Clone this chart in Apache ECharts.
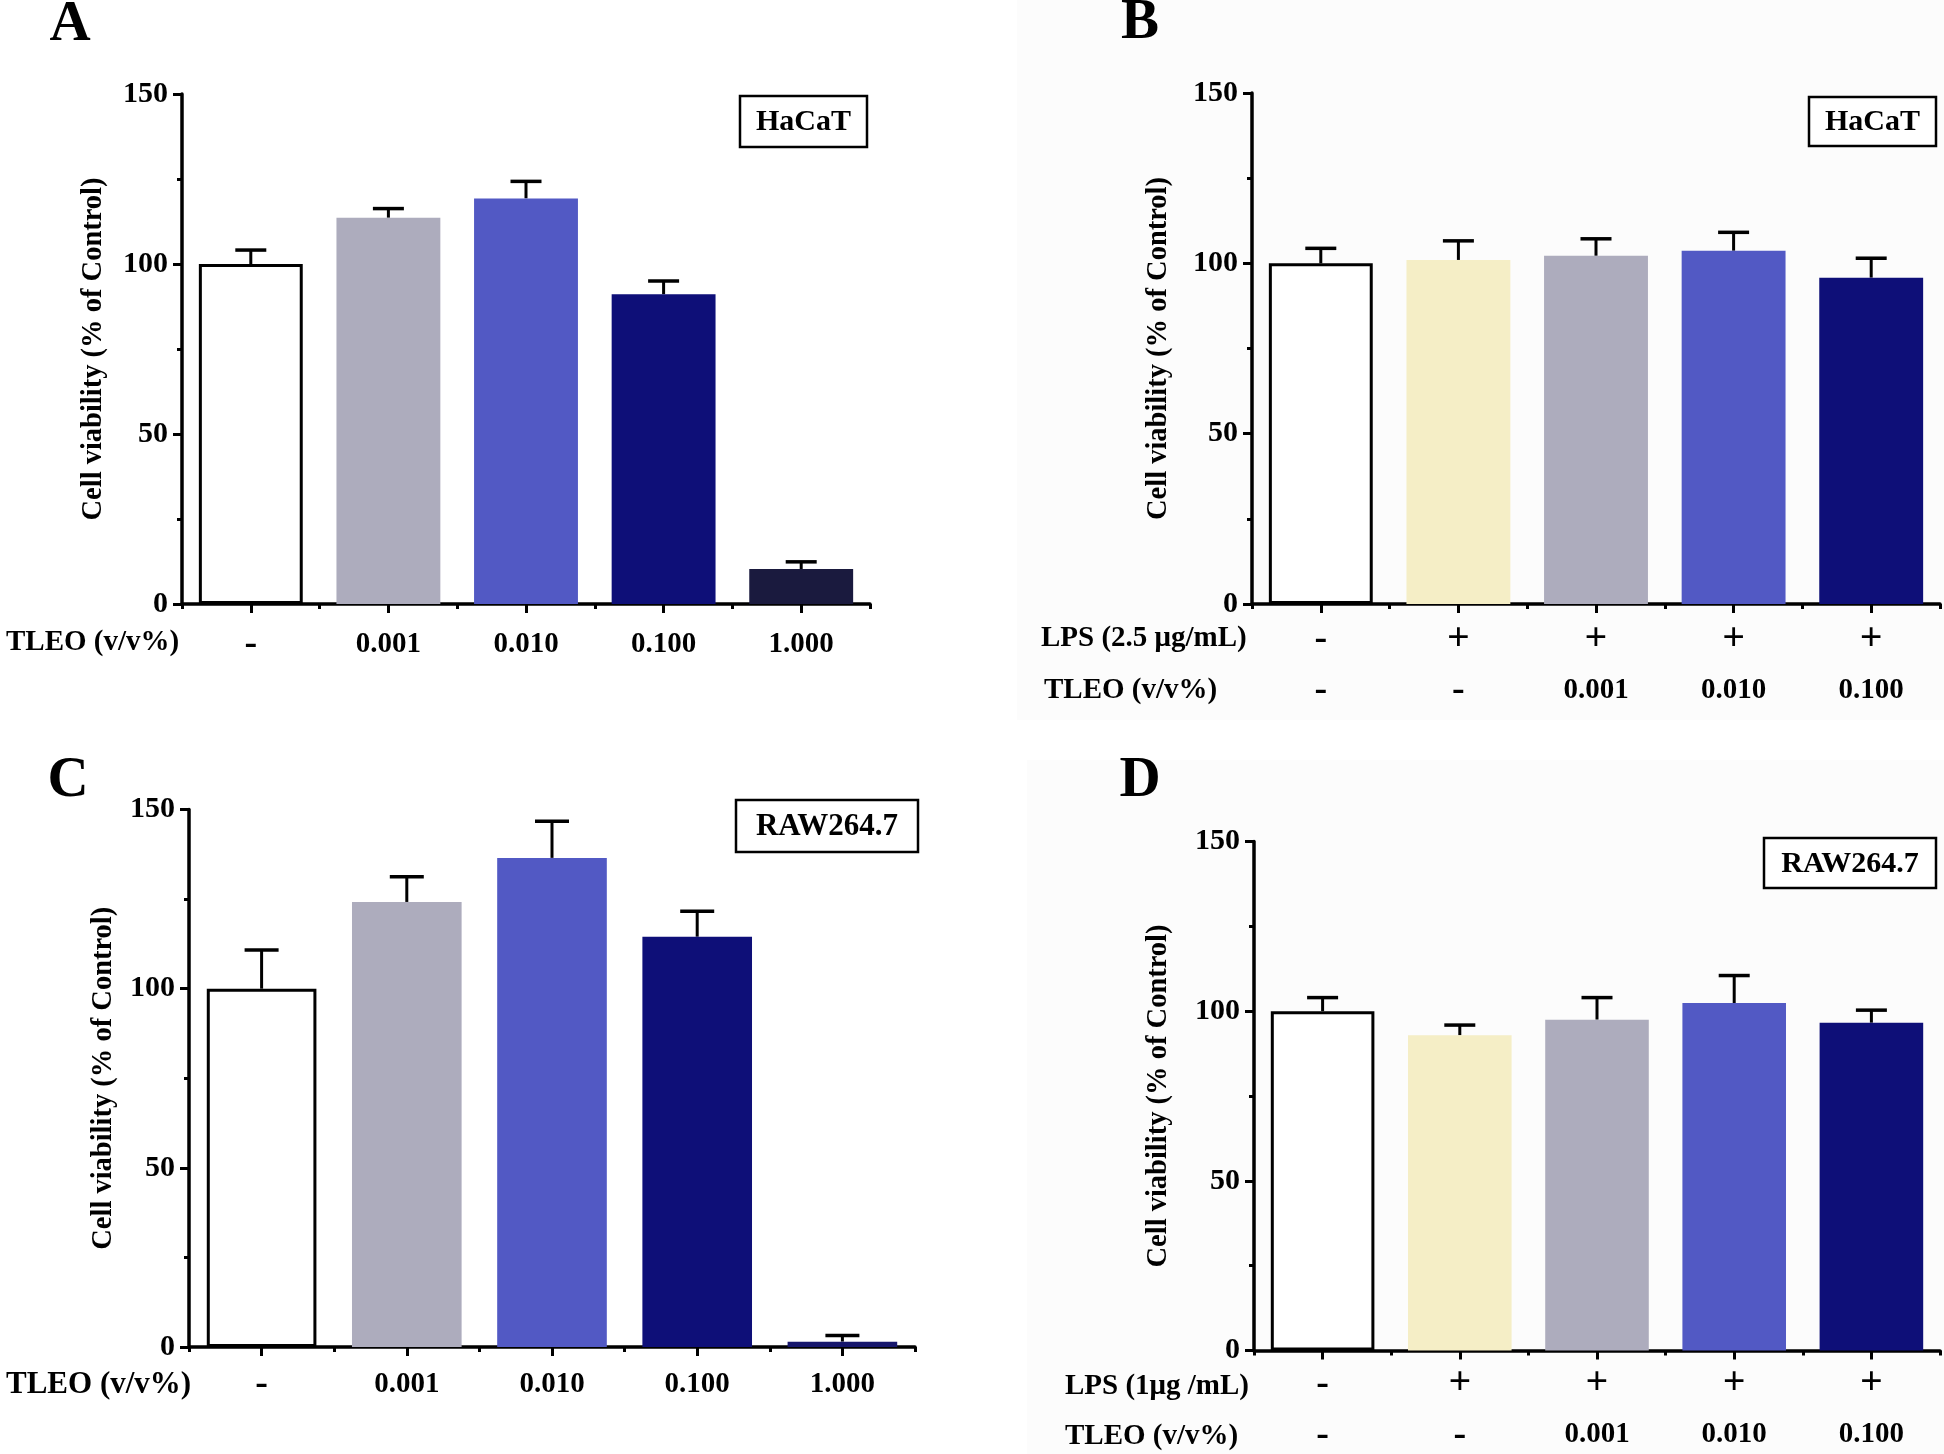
<!DOCTYPE html>
<html>
<head>
<meta charset="utf-8">
<script src="https://cdn.jsdelivr.net/npm/echarts@6/dist/echarts.min.js"></script>
<style>
html,body{margin:0;padding:0;background:#fff;}
#chart{width:1944px;height:1454px;}
</style>
</head>
<body>
<div id="chart"></div>
<script>
// ---------- data ----------
const catsA = ['-', '0.001', '0.010', '0.100', '1.000'];
const valsA = [100, 113.6, 119.3, 91.1, 10.3];
const errA  = [4.1, 2.7, 5.0, 3.9, 2.1];

const lpsB  = ['-', '+', '+', '+', '+'];
const tleoB = ['-', '-', '0.001', '0.010', '0.100'];
const valsB = [100, 101.0, 102.2, 103.7, 95.8];
const errB  = [4.4, 5.6, 5.0, 5.4, 5.7];

const catsC = ['-', '0.001', '0.010', '0.100', '1.000'];
const valsC = [100, 124.2, 136.5, 114.5, 1.5];
const errC  = [10.8, 7.0, 10.2, 7.1, 1.7];

const lpsD  = ['-', '+', '+', '+', '+'];
const tleoD = ['-', '-', '0.001', '0.010', '0.100'];
const valsD = [100, 92.9, 97.5, 102.4, 96.6];
const errD  = [4.0, 3.0, 6.5, 8.1, 3.7];

const yMin = 0, yMax = 150, yStep = 50;
const yTitle = 'Cell viability (% of Control)';

// ---------- styles ----------
const FONT = "'Liberation Serif', 'Times New Roman', serif";
const colA = ['#ffffff', '#ADACBD', '#5259C4', '#0E0F78', '#1A1A3E'];
const colB = ['#ffffff', '#F5EEC6', '#ADACBD', '#5259C4', '#0E0F78'];
const colC = ['#ffffff', '#ADACBD', '#5259C4', '#0E0F78', '#16166C'];

const panels = [
  { letter:'A', lx:70, ly:25, grid:{left:182, top:94, width:688, height:510},
    rows:[catsA], margin:26, offsets:[0], vals:valsA, errs:errA, colors:colA, cap:31, nameGap:74,
    box:{x:740, y:96, w:127, h:51, text:'HaCaT', fs:30},
    rowLabels:[{t:'TLEO (v/v%)', x:6, y:643, fs:29}] },
  { letter:'B', lx:1140, ly:23, grid:{left:1252, top:93, width:688, height:511},
    rows:[lpsB, tleoB], margin:21, offsets:[0, 51], vals:valsB, errs:errB, colors:colB, cap:31, nameGap:79,
    box:{x:1809, y:97, w:127, h:49, text:'HaCaT', fs:30},
    rowLabels:[{t:'LPS (2.5 μg/mL)', x:1041, y:639, fs:29}, {t:'TLEO (v/v%)', x:1044, y:691, fs:29}] },
  { letter:'C', lx:68, ly:781, grid:{left:189, top:809.5, width:726, height:537.5},
    rows:[catsC], margin:23, offsets:[0], vals:valsC, errs:errC, colors:colC, cap:34, nameGap:71,
    box:{x:736, y:800, w:182, h:52, text:'RAW264.7', fs:31},
    rowLabels:[{t:'TLEO (v/v%)', x:6, y:1385, fs:31}] },
  { letter:'D', lx:1140, ly:781, grid:{left:1254, top:841.5, width:686, height:511.5},
    rows:[lpsD, tleoD], margin:19, offsets:[0, 51], vals:valsD, errs:errD, colors:colB, cap:31, nameGap:81,
    box:{x:1764, y:838, w:172, h:50, text:'RAW264.7', fs:30},
    rowLabels:[{t:'LPS (1μg /mL)', x:1065, y:1387, fs:29}, {t:'TLEO (v/v%)', x:1065, y:1437, fs:29}] }
];

const grids = [], xAxes = [], yAxes = [], series = [], graphics = [];

function labelStyle(margin) {
  return {
    show:true, margin:margin, color:'#000', fontFamily:FONT, fontWeight:'bold', fontSize:29, lineHeight:29, interval:0,
    formatter: v => v === '+' ? '{p|+}' : (v === '-' ? '{m|-}' : v),
    rich:{
      p:{fontSize:40, fontWeight:'bold', fontFamily:FONT, color:'#000', lineHeight:29},
      m:{fontSize:38, fontWeight:'bold', fontFamily:FONT, color:'#000', lineHeight:29}
    }
  };
}

// subtle panel backgrounds (B and D)
graphics.push({type:'rect', z:-100, shape:{x:1017, y:0, width:927, height:720}, style:{fill:'#fcfcfc'}});
graphics.push({type:'rect', z:-100, shape:{x:1027, y:760, width:917, height:694}, style:{fill:'#fcfcfc'}});

panels.forEach((p, gi) => {
  grids.push(Object.assign({containLabel:false}, p.grid));
  const mainX = xAxes.length;
  xAxes.push({
    type:'category', gridIndex:gi, data:p.rows[0], position:'bottom',
    axisLine:{show:true, lineStyle:{color:'#000', width:3.5}},
    axisTick:{show:true, alignWithLabel:true, length:9, lineStyle:{color:'#000', width:3}},
    axisLabel:labelStyle(p.margin),
    splitLine:{show:false}
  });
  xAxes.push({
    type:'category', gridIndex:gi, data:p.rows[0], position:'bottom',
    axisLine:{show:false},
    axisTick:{show:true, alignWithLabel:false, interval:0, length:5, lineStyle:{color:'#000', width:3}},
    axisLabel:{show:false}, splitLine:{show:false}
  });
  for (let r = 1; r < p.rows.length; r++) {
    xAxes.push({
      type:'category', gridIndex:gi, data:p.rows[r], position:'bottom', offset:p.offsets[r],
      axisLine:{show:false}, axisTick:{show:false},
      axisLabel:labelStyle(p.margin),
      splitLine:{show:false}
    });
  }
  const yi = yAxes.length;
  yAxes.push({
    type:'value', gridIndex:gi, min:yMin, max:yMax, interval:yStep,
    name:yTitle, nameLocation:'middle', nameGap:p.nameGap,
    nameTextStyle:{color:'#000', fontFamily:FONT, fontWeight:'bold', fontSize:28.5},
    axisLine:{show:true, lineStyle:{color:'#000', width:3.5}},
    axisTick:{show:true, length:9, lineStyle:{color:'#000', width:3}},
    minorTick:{show:true, splitNumber:2, length:5, lineStyle:{color:'#000', width:3}},
    axisLabel:{show:true, margin:14, color:'#000', fontFamily:FONT, fontWeight:'bold', fontSize:30},
    splitLine:{show:false}, minorSplitLine:{show:false}
  });
  series.push({
    type:'bar', xAxisIndex:mainX, yAxisIndex:yi, barCategoryGap:'24.5%',
    data:p.vals.map((v, i) => ({
      value:v,
      itemStyle:{color:p.colors[i], borderColor: i === 0 ? '#000' : p.colors[i], borderWidth: i === 0 ? 3 : 0}
    })),
    z:3, animation:false
  });
  const cap = p.cap;
  series.push({
    type:'custom', xAxisIndex:mainX, yAxisIndex:yi, z:2, animation:false,
    data:p.vals.map((v, i) => [i, v, p.errs[i]]),
    encode:{x:0, y:1},
    renderItem:function(params, api){
      const i = api.value(0), v = api.value(1), e = api.value(2);
      const a = api.coord([i, v]);
      const b = api.coord([i, v + e]);
      return {type:'group', children:[
        {type:'line', shape:{x1:a[0], y1:a[1], x2:b[0], y2:b[1]}, style:{stroke:'#000', lineWidth:3}},
        {type:'line', shape:{x1:b[0]-cap/2, y1:b[1], x2:b[0]+cap/2, y2:b[1]}, style:{stroke:'#000', lineWidth:3.5}}
      ]};
    }
  });
  graphics.push({type:'text', x:p.lx, y:p.ly, style:{text:p.letter, font:'bold 57px ' + FONT, textAlign:'center', textVerticalAlign:'middle', fill:'#000'}});
  graphics.push({type:'rect', shape:{x:p.box.x, y:p.box.y, width:p.box.w, height:p.box.h}, style:{fill:'#fff', stroke:'#000', lineWidth:2.5}});
  graphics.push({type:'text', x:p.box.x + p.box.w/2, y:p.box.y + p.box.h/2 + 1, style:{text:p.box.text, font:'bold ' + p.box.fs + 'px ' + FONT, textAlign:'center', textVerticalAlign:'middle', fill:'#000'}});
  p.rowLabels.forEach(l => {
    graphics.push({type:'text', x:l.x, y:l.y, style:{text:l.t, font:'bold ' + l.fs + 'px ' + FONT, textAlign:'left', textVerticalAlign:'middle', fill:'#000'}});
  });
});

const chart = echarts.init(document.getElementById('chart'), null, {renderer:'canvas', width:1944, height:1454});
chart.setOption({
  backgroundColor:'#ffffff',
  animation:false,
  grid:grids, xAxis:xAxes, yAxis:yAxes, series:series,
  graphic:{elements:graphics}
});
</script>
</body>
</html>
